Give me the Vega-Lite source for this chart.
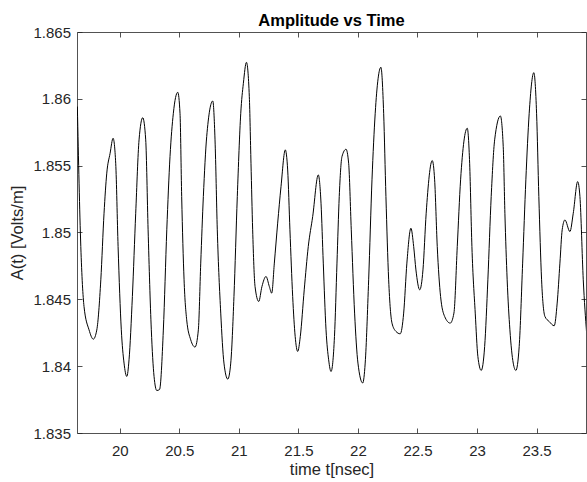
{
  "$schema": "https://vega.github.io/schema/vega-lite/v6.json",
  "autosize": "none",
  "width": 509,
  "height": 401,
  "padding": {"left": 77, "top": 32, "right": 1, "bottom": 49},
  "background": "white",
  "title": {"text": "Amplitude vs Time", "font": "Liberation Sans", "fontSize": 16.5, "fontWeight": "bold", "color": "#000000", "baseline": "bottom", "offset": 5, "dy": 25, "anchor": "middle"},
  "config": {
    "view": {"stroke": null},
    "axis": {"grid": false, "domainColor": "#262626", "domainWidth": 0.8, "ticks": true, "tickColor": "#262626", "tickWidth": 0.8, "labelColor": "#262626", "labelFont": "Liberation Sans", "labelFontSize": 15, "titleFont": "Liberation Sans", "titleFontSize": 16.5, "titleFontWeight": "normal", "titleColor": "#262626"}
  },
  "data": {"values": [
    {"t": 19.644, "a": 1.85942}, {"t": 19.673, "a": 1.84895}, {"t": 19.700, "a": 1.84446}, {"t": 19.742, "a": 1.84272},
    {"t": 19.778, "a": 1.84202}, {"t": 19.807, "a": 1.84270}, {"t": 19.841, "a": 1.84646}, {"t": 19.868, "a": 1.85144},
    {"t": 19.891, "a": 1.85444}, {"t": 19.919, "a": 1.85593}, {"t": 19.944, "a": 1.85705}, {"t": 19.966, "a": 1.85518},
    {"t": 19.986, "a": 1.84895}, {"t": 20.013, "a": 1.84272}, {"t": 20.036, "a": 1.84023}, {"t": 20.059, "a": 1.83923},
    {"t": 20.078, "a": 1.84048}, {"t": 20.106, "a": 1.84521}, {"t": 20.134, "a": 1.85144}, {"t": 20.162, "a": 1.85693},
    {"t": 20.193, "a": 1.85859}, {"t": 20.218, "a": 1.85693}, {"t": 20.238, "a": 1.85020}, {"t": 20.265, "a": 1.84272},
    {"t": 20.288, "a": 1.83923}, {"t": 20.311, "a": 1.83818}, {"t": 20.334, "a": 1.83825}, {"t": 20.366, "a": 1.84270},
    {"t": 20.395, "a": 1.85020}, {"t": 20.422, "a": 1.85568}, {"t": 20.450, "a": 1.85892}, {"t": 20.487, "a": 1.86049},
    {"t": 20.506, "a": 1.85892}, {"t": 20.520, "a": 1.85269}, {"t": 20.540, "a": 1.84646}, {"t": 20.562, "a": 1.84347},
    {"t": 20.596, "a": 1.84197}, {"t": 20.632, "a": 1.84143}, {"t": 20.660, "a": 1.84272}, {"t": 20.680, "a": 1.84771},
    {"t": 20.702, "a": 1.85269}, {"t": 20.730, "a": 1.85717}, {"t": 20.781, "a": 1.85984}, {"t": 20.800, "a": 1.85693},
    {"t": 20.819, "a": 1.85020}, {"t": 20.848, "a": 1.84397}, {"t": 20.875, "a": 1.84023}, {"t": 20.907, "a": 1.83903},
    {"t": 20.932, "a": 1.84023}, {"t": 20.959, "a": 1.84521}, {"t": 20.987, "a": 1.85269}, {"t": 21.016, "a": 1.85892},
    {"t": 21.038, "a": 1.86116}, {"t": 21.064, "a": 1.86273}, {"t": 21.088, "a": 1.86016}, {"t": 21.102, "a": 1.85518},
    {"t": 21.116, "a": 1.85020}, {"t": 21.136, "a": 1.84596}, {"t": 21.167, "a": 1.84484}, {"t": 21.194, "a": 1.84596},
    {"t": 21.228, "a": 1.84671}, {"t": 21.256, "a": 1.84596}, {"t": 21.276, "a": 1.84546}, {"t": 21.298, "a": 1.84771},
    {"t": 21.326, "a": 1.85070}, {"t": 21.354, "a": 1.85343}, {"t": 21.390, "a": 1.85618}, {"t": 21.410, "a": 1.85468},
    {"t": 21.429, "a": 1.85020}, {"t": 21.452, "a": 1.84521}, {"t": 21.473, "a": 1.84222}, {"t": 21.494, "a": 1.84110},
    {"t": 21.516, "a": 1.84222}, {"t": 21.549, "a": 1.84571}, {"t": 21.583, "a": 1.84895}, {"t": 21.620, "a": 1.85119},
    {"t": 21.667, "a": 1.85431}, {"t": 21.690, "a": 1.85219}, {"t": 21.709, "a": 1.84771}, {"t": 21.732, "a": 1.84272},
    {"t": 21.754, "a": 1.84048}, {"t": 21.774, "a": 1.83960}, {"t": 21.803, "a": 1.84222}, {"t": 21.824, "a": 1.84771},
    {"t": 21.843, "a": 1.85269}, {"t": 21.866, "a": 1.85568}, {"t": 21.900, "a": 1.85623}, {"t": 21.922, "a": 1.85518},
    {"t": 21.944, "a": 1.85020}, {"t": 21.972, "a": 1.84397}, {"t": 22.000, "a": 1.84023}, {"t": 22.040, "a": 1.83874},
    {"t": 22.061, "a": 1.84023}, {"t": 22.090, "a": 1.84646}, {"t": 22.118, "a": 1.85394}, {"t": 22.145, "a": 1.85892},
    {"t": 22.193, "a": 1.86236}, {"t": 22.216, "a": 1.85892}, {"t": 22.235, "a": 1.85269}, {"t": 22.258, "a": 1.84646},
    {"t": 22.286, "a": 1.84322}, {"t": 22.319, "a": 1.84260}, {"t": 22.355, "a": 1.84242}, {"t": 22.384, "a": 1.84397},
    {"t": 22.411, "a": 1.84771}, {"t": 22.445, "a": 1.85032}, {"t": 22.468, "a": 1.84895}, {"t": 22.487, "a": 1.84720},
    {"t": 22.519, "a": 1.84571}, {"t": 22.546, "a": 1.84720}, {"t": 22.573, "a": 1.85144}, {"t": 22.624, "a": 1.85538},
    {"t": 22.644, "a": 1.85394}, {"t": 22.666, "a": 1.84895}, {"t": 22.694, "a": 1.84521}, {"t": 22.728, "a": 1.84372},
    {"t": 22.775, "a": 1.84322}, {"t": 22.806, "a": 1.84397}, {"t": 22.834, "a": 1.84895}, {"t": 22.862, "a": 1.85394},
    {"t": 22.918, "a": 1.85780}, {"t": 22.938, "a": 1.85518}, {"t": 22.957, "a": 1.84895}, {"t": 22.985, "a": 1.84397},
    {"t": 23.007, "a": 1.84073}, {"t": 23.035, "a": 1.83968}, {"t": 23.064, "a": 1.84147}, {"t": 23.091, "a": 1.84646},
    {"t": 23.119, "a": 1.85269}, {"t": 23.148, "a": 1.85693}, {"t": 23.196, "a": 1.85872}, {"t": 23.220, "a": 1.85642},
    {"t": 23.234, "a": 1.85144}, {"t": 23.253, "a": 1.84646}, {"t": 23.276, "a": 1.84272}, {"t": 23.304, "a": 1.84023},
    {"t": 23.326, "a": 1.83968}, {"t": 23.354, "a": 1.84147}, {"t": 23.383, "a": 1.84771}, {"t": 23.410, "a": 1.85394},
    {"t": 23.438, "a": 1.85892}, {"t": 23.477, "a": 1.86196}, {"t": 23.500, "a": 1.85892}, {"t": 23.519, "a": 1.85269},
    {"t": 23.542, "a": 1.84646}, {"t": 23.570, "a": 1.84372}, {"t": 23.606, "a": 1.84334}, {"t": 23.648, "a": 1.84302},
    {"t": 23.673, "a": 1.84472}, {"t": 23.696, "a": 1.84771}, {"t": 23.715, "a": 1.85020}, {"t": 23.738, "a": 1.85094},
    {"t": 23.780, "a": 1.85007}, {"t": 23.808, "a": 1.85144}, {"t": 23.845, "a": 1.85381}, {"t": 23.864, "a": 1.85269},
    {"t": 23.892, "a": 1.84646}, {"t": 23.920, "a": 1.84250}
  ]},
  "resolve": {"axis": {"x": "independent", "y": "independent"}},
  "layer": [
    {
      "mark": {"type": "line", "color": "#000000", "strokeWidth": 1, "interpolate": "monotone", "clip": true},
      "encoding": {
        "x": {"field": "t", "type": "quantitative", "scale": {"domain": [19.641, 23.915], "nice": false, "zero": false},
          "axis": {"orient": "bottom", "values": [20, 20.5, 21, 21.5, 22, 22.5, 23, 23.5], "format": "~g", "tickSize": -5, "labelPadding": 15, "title": "time t[nsec]", "titleY": 41, "titleBaseline": "alphabetic"}},
        "y": {"field": "a", "type": "quantitative", "scale": {"domain": [1.835, 1.865], "nice": false, "zero": false},
          "axis": {"orient": "left", "values": [1.835, 1.84, 1.845, 1.85, 1.855, 1.86, 1.865], "format": "~g", "tickSize": -5, "labelPadding": 11.5, "title": "A(t) [Volts/m]", "titleX": -55, "titleBaseline": "alphabetic"}}
      }
    },
    {
      "mark": {"type": "line", "opacity": 0, "clip": true},
      "encoding": {
        "x": {"field": "t", "type": "quantitative", "scale": {"domain": [19.641, 23.915], "nice": false, "zero": false},
          "axis": {"orient": "top", "values": [20, 20.5, 21, 21.5, 22, 22.5, 23, 23.5], "tickSize": -5, "labels": false, "title": null}},
        "y": {"field": "a", "type": "quantitative", "scale": {"domain": [1.835, 1.865], "nice": false, "zero": false},
          "axis": {"orient": "right", "values": [1.835, 1.84, 1.845, 1.85, 1.855, 1.86, 1.865], "tickSize": -5, "labels": false, "title": null}}
      }
    }
  ]
}
